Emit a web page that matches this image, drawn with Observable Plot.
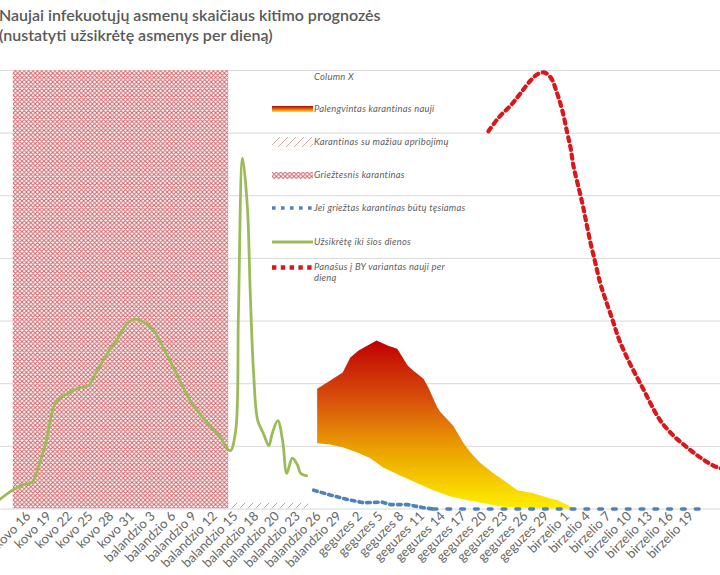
<!DOCTYPE html>
<html><head><meta charset="utf-8">
<script src="https://cdn.jsdelivr.net/npm/d3@7"></script>
<script src="https://cdn.jsdelivr.net/npm/@observablehq/plot@0.6"></script>
<style>
body{margin:0;background:#fff;}
#wrap{position:relative;width:720px;height:575px;overflow:hidden;background:#fff;font-family:Lato,"Open Sans",sans-serif;}
#title{position:absolute;left:-1px;top:5px;font-size:16px;line-height:19.5px;color:#595959;font-weight:600;white-space:nowrap;}
#chart{position:absolute;left:0;top:60px;}
.li{position:absolute;left:314px;font-size:9.4px;font-style:italic;color:#606060;white-space:nowrap;line-height:11px;letter-spacing:0.25px;}
.sw{position:absolute;left:272px;}
</style></head>
<body>
<div id="wrap">
  <div id="title">Naujai infekuotųjų asmenų skaičiaus kitimo prognozės<br>(nustatyti užsikrėtę asmenys per dieną)</div>
  <div id="chart"></div>
  <div id="legend"></div>
</div>
<script>
// ---- tick labels (every 3rd category, index = days from "kovo 16") ----
const tickLabels = ["kovo 16","kovo 19","kovo 22","kovo 25","kovo 28","kovo 31",
  "balandzio 3","balandzio 6","balandzio 9","balandzio 12","balandzio 15","balandzio 18",
  "balandzio 20","balandzio 23","balandzio 26","balandzio 29",
  "geguzes 2","geguzes 5","geguzes 8","geguzes 11","geguzes 14","geguzes 17",
  "geguzes 20","geguzes 23","geguzes 26","geguzes 29",
  "birzelio 1","birzelio 4","birzelio 7","birzelio 10","birzelio 13","birzelio 16","birzelio 19"];
const tickDays = tickLabels.map((_, k) => 3 * k);
const gridValues = [10, 20, 30, 40, 50, 60, 70];

// ---- Griežtesnis karantinas (cross hatch) ----
const strictDays = [-2.2, 29];
const strictLevel = [70, 70];
// ---- Karantinas su mažiau apribojimų (diagonal hatch) ----
const milderDays = [29, 40.6];
const milderLevel = [0.9, 0.9];

// ---- Palengvintas karantinas nauji (gradient band) ----
const bandTopDays = [41.8,43.7,45.5,46.6,47.8,49.1,50.4,52.0,53.4,54.9,55.7,57.2,57.9,59.2,59.7,61.5,63.0,64.0,65.4,67.3,69.4,70.8,73.1,75.2,76.6,78.1,79.0];
const bandTopVals = [19.2,20.5,21.8,24.2,25.3,26.1,26.9,26.1,25.6,22.9,22.1,20.8,19.4,16.2,15.4,13.3,10.5,9.0,7.4,5.7,4.1,3.0,2.5,1.8,1.4,0.6,0.1];
const bandLowDays = [41.8,43.7,45.6,47.6,49.5,51.4,53.9,56.3,58.6,61.1,63.6,65.9,68.3,70.8,79.0];
const bandLowVals = [10.5,10.3,9.8,9.0,8.1,6.6,5.3,4.1,3.0,2.0,1.4,0.9,0.4,0.2,0.0];

// ---- Užsikrėtę iki šios dienos (green) ----
const greenDays = [-4.4,-2.2,-0.7,0.3,0.7,1.4,2.5,3.6,4.2,5.6,7.5,8.7,9.7,11.4,12.9,14.3,15.5,16.7,18.1,19.5,21.0,22.4,23.9,25.9,27.8,29.2,30.0,30.4,31.0,31.7,32.1,32.6,33.2,34.0,34.8,35.3,36.1,36.8,37.4,38.2,39.0,39.4,40.3];
const greenVals = [1.3,3.1,3.9,4.1,4.5,6.6,10.5,16.2,17.3,18.4,19.4,19.7,21.6,24.8,27.2,29.6,30.3,29.8,28.5,25.8,22.6,19.4,16.5,13.8,11.4,9.3,12.5,31.2,56.0,48.1,34.9,21.6,14.1,12.1,10.1,12.1,14.1,10.9,5.7,8.1,6.9,5.7,5.3];

// ---- Jei griežtas karantinas būtų tęsiamas (blue dotted) ----
const blueDays = [41.3,43.8,46.2,48.5,51.2,52.4,54.9,57.2,58.6,97.7];
const blueVals = [3.0,2.2,1.5,1.0,1.1,0.7,0.7,0.2,0,0];

// ---- Panašus į BY variantas nauji per dieną (red dotted) ----
const redDays = [66.6,68.1,69.8,71.2,72.7,73.7,74.6,75.6,76.5,77.3,78.0,78.5,78.9,79.5,80.2,80.7,81.4,82.1,82.8,83.6,84.6,85.4,86.4,87.6,88.9,90.1,91.5,93.4,95.4,97.3,99.2,100.2,101.5];
const redVals = [60.3,62.5,64.4,66.3,68.4,69.4,69.7,68.9,66.5,63.6,60.1,57.6,54.8,52.0,48.8,46.1,42.4,39.2,36.0,33.3,30.1,27.4,24.8,22.1,19.4,16.8,14.1,11.7,9.8,8.2,6.9,6.5,5.8];

const legendLabels = ["Column X","Palengvintas karantinas nauji","Karantinas su mažiau apribojimų",
  "Griežtesnis karantinas","Jei griežtas karantinas būtų tęsiamas","Užsikrėtę iki šios dienos",
  "Panašus į BY variantas nauji per","dieną"];

const zip = (xs, ys) => xs.map((x, i) => ({day: x, value: ys[i]}));
const strict = zip(strictDays, strictLevel);
const milder = zip(milderDays, milderLevel);
const band = zip(bandTopDays, bandTopVals).concat(zip(bandLowDays, bandLowVals).reverse());
const green = zip(greenDays, greenVals);
const blue = zip(blueDays, blueVals);
const red = zip(redDays, redVals);

const svg = Plot.plot({
  width: 720, height: 515,
  marginLeft: 0, marginRight: 0, marginTop: 10, marginBottom: 66.5,
  style: {fontFamily: "Lato, sans-serif", fontSize: "13px", color: "#666666", background: "transparent", overflow: "visible"},
  x: {domain: [-4.05, 100.2], ticks: tickDays, tickFormat: d => tickLabels[Math.round(d / 3)], tickRotate: -45, tickSize: 0, tickPadding: 5, label: null},
  y: {domain: [0, 70], axis: null},
  marks: [
    Plot.ruleY(gridValues, {stroke: "#d9d9d9", strokeWidth: 1}),
    Plot.areaY(strict, {x: "day", y: "value", fill: "url(#crossHatch)"}),
    Plot.areaY(milder, {x: "day", y: "value", fill: "url(#diagHatch)"}),
    Plot.line(band, {x: "day", y: "value", fill: "url(#bandGrad)", stroke: "none"}),
    Plot.ruleY([0], {stroke: "#d9d9d9", strokeWidth: 1}),
    Plot.line(green, {x: "day", y: "value", stroke: "#9bbb59", strokeWidth: 2.8, curve: "catmull-rom"}),
    Plot.line(blue, {filter: d => d.day <= 58.6, x: "day", y: "value", stroke: "#4f81bd", strokeWidth: 3.6, strokeDasharray: "3.6 4.2"}),
    Plot.line(blue, {filter: d => d.day >= 58.6, x: "day", y: "value", stroke: "#4f81bd", strokeWidth: 3.6, strokeDasharray: "3.6 10.2"}),
    Plot.line(red, {x: "day", y: "value", stroke: "#d7191c", strokeWidth: 4.2, strokeDasharray: "4.2 4.8", curve: "catmull-rom"})
  ]
});

const defs = d3.select(svg).insert("defs", ":first-child");
const cp = defs.append("pattern").attr("id", "crossHatch").attr("patternUnits", "userSpaceOnUse").attr("width", 4.4).attr("height", 4.4);
cp.append("rect").attr("width", 4.4).attr("height", 4.4).attr("fill", "#fff");
cp.append("path").attr("d", "M0,0L4.4,4.4M4.4,0L0,4.4M-1,1L1,-1M3.4,5.4L5.4,3.4M-1,3.4L1,5.4M3.4,-1L5.4,1").attr("stroke", "#cf5f66").attr("stroke-width", 0.95);
const dp = defs.append("pattern").attr("id", "diagHatch").attr("patternUnits", "userSpaceOnUse").attr("width", 8).attr("height", 8);
dp.append("path").attr("d", "M0,8L8,0M-2,2L2,-2M6,10L10,6").attr("stroke", "#e6a3a6").attr("stroke-width", 1);
const g = defs.append("linearGradient").attr("id", "bandGrad").attr("x1", 0).attr("y1", 0).attr("x2", 0).attr("y2", 1);
[[0, "#c00000"], [0.35, "#d8500c"], [0.65, "#eca200"], [1, "#fff000"]].forEach(([o, c]) => g.append("stop").attr("offset", o).attr("stop-color", c));

document.getElementById("chart").appendChild(svg);

// ---- legend (inside plot area) ----
const legend = d3.select("#legend");
const rowsY = [77, 109, 142, 175, 208, 242, 267, 278];
legendLabels.forEach((t, i) => {
  legend.append("div").attr("class", "li").style("top", (rowsY[i] - 6) + "px").text(t);
});
function swatch(y, h) {
  return legend.append("svg").attr("class", "sw").attr("width", 42).attr("height", h)
    .style("top", (y - h / 2) + "px").style("left", "272px").style("position", "absolute");
}
let s = swatch(109, 6);
const lg = s.append("defs").append("linearGradient").attr("id", "lgGrad").attr("x1", 0).attr("y1", 0).attr("x2", 0).attr("y2", 1);
[[0, "#c00000"], [0.45, "#d86010"], [1, "#ffe600"]].forEach(([o, c]) => lg.append("stop").attr("offset", o).attr("stop-color", c));
s.append("rect").attr("width", 41).attr("height", 6).attr("fill", "url(#lgGrad)");
s = swatch(142, 10);
s.append("rect").attr("width", 41).attr("height", 10).attr("fill", "url(#diagHatch)");
s = swatch(175, 7);
s.append("rect").attr("width", 41).attr("height", 7).attr("fill", "url(#crossHatch)");
s = swatch(208, 4);
s.append("line").attr("x1", 0).attr("x2", 42).attr("y1", 2).attr("y2", 2).attr("stroke", "#4f81bd").attr("stroke-width", 3.6).attr("stroke-dasharray", "3.6 5.4");
s = swatch(242, 4);
s.append("line").attr("x1", 0).attr("x2", 41).attr("y1", 2).attr("y2", 2).attr("stroke", "#9bbb59").attr("stroke-width", 2.8);
s = swatch(267, 5);
s.append("line").attr("x1", 0).attr("x2", 42).attr("y1", 2.5).attr("y2", 2.5).attr("stroke", "#d7191c").attr("stroke-width", 4.4).attr("stroke-dasharray", "4.4 4.4");
</script>
</body></html>
